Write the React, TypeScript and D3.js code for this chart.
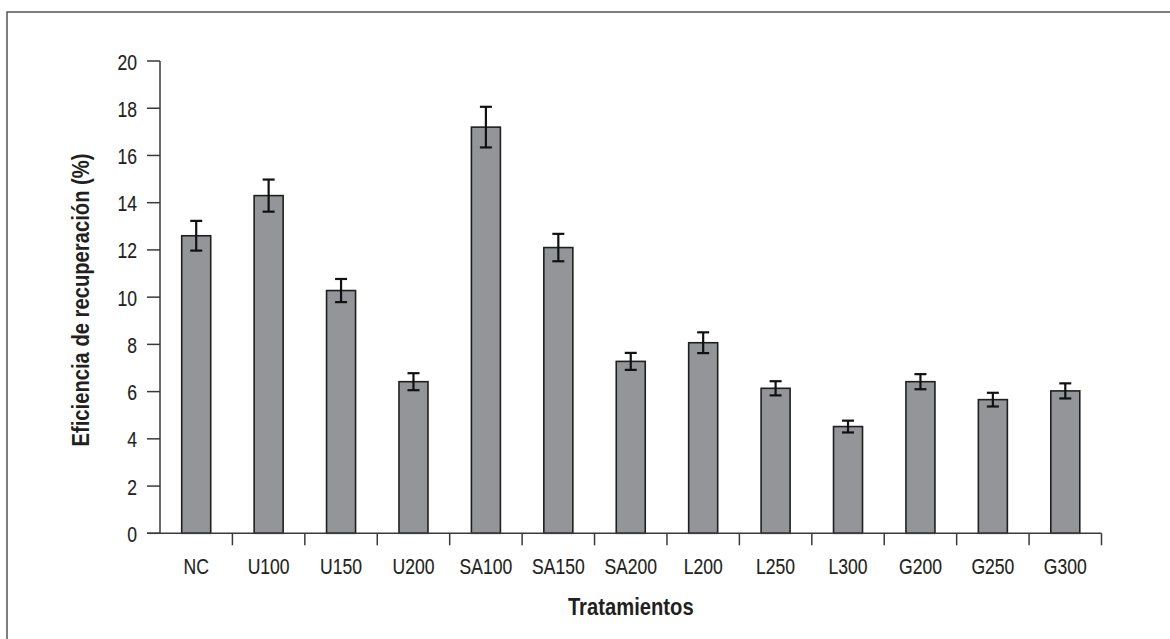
import React from "react";
import * as d3 from "d3";

const categories = ["NC", "U100", "U150", "U200", "SA100", "SA150", "SA200", "L200", "L250", "L300", "G200", "G250", "G300"];
const values = [12.6, 14.3, 10.28, 6.42, 17.2, 12.1, 7.28, 8.07, 6.14, 4.52, 6.42, 5.66, 6.03];
const errors = [0.63, 0.68, 0.49, 0.36, 0.86, 0.58, 0.36, 0.44, 0.3, 0.25, 0.32, 0.29, 0.32];
const yTicks = [0, 2, 4, 6, 8, 10, 12, 14, 16, 18, 20];
const xTitle = "Tratamientos";
const yTitle = "Eficiencia de recuperación (%)";

const W = 1170;
const H = 639;
const left = 160;
const right = 1101.5;
const top = 61;
const bottom = 533.3;
const FONT = "'Liberation Sans', Arial, sans-serif";
const TEXT = "#231f20";
const AXIS = "#3a3a3a";

function CText(props: {
  x: number;
  y: number;
  sx: number;
  rotate?: number;
  anchor: string;
  size: number;
  bold?: boolean;
  children: React.ReactNode;
}) {
  const rot = props.rotate ? ` rotate(${props.rotate})` : "";
  return (
    <text
      transform={`translate(${props.x},${props.y})${rot} scale(${props.sx},1)`}
      textAnchor={props.anchor}
      fontFamily={FONT}
      fontSize={props.size}
      fontWeight={props.bold ? "bold" : "normal"}
      fill={TEXT}
      stroke={props.bold ? "none" : TEXT}
      strokeWidth={props.bold ? 0 : 0.15}
    >
      {props.children}
    </text>
  );
}

export default function App() {
  const x = d3.scaleBand<string>().domain(categories).range([left, right]).paddingInner(0).paddingOuter(0);
  const y = d3.scaleLinear().domain([0, 20]).range([bottom, top]);
  const bw = 29;
  const cap = 6;
  const bandEdges = categories.map((c) => x(c)!).concat([right]);

  return (
    <svg width={W} height={H} style={{ position: "absolute", left: 0, top: 0, background: "#fff" }}>
      <rect x={7} y={12} width={W + 20} height={H + 20} fill="#fff" stroke="#555" strokeWidth={1.5} />
      {categories.map((c, i) => {
        const cx = x(c)! + x.bandwidth() / 2;
        return (
          <g key={c}>
            <rect x={cx - bw / 2} y={y(values[i])} width={bw} height={y(0) - y(values[i])} fill="#939598" stroke="#1f1f1f" strokeWidth={1.6} />
            <line x1={cx} x2={cx} y1={y(values[i] + errors[i])} y2={y(values[i] - errors[i])} stroke="#111" strokeWidth={2.2} />
            <line x1={cx - cap} x2={cx + cap} y1={y(values[i] + errors[i])} y2={y(values[i] + errors[i])} stroke="#111" strokeWidth={2.2} />
            <line x1={cx - cap} x2={cx + cap} y1={y(values[i] - errors[i])} y2={y(values[i] - errors[i])} stroke="#111" strokeWidth={2.2} />
          </g>
        );
      })}
      <line x1={left} x2={left} y1={y(20)} y2={y(0)} stroke={AXIS} strokeWidth={1.5} />
      {yTicks.map((t) => (
        <g key={t}>
          <line x1={left - 13} x2={left} y1={y(t)} y2={y(t)} stroke={AXIS} strokeWidth={1.5} />
          <CText x={left - 23} y={y(t) + 8.5} sx={0.78} anchor="end" size={22.5}>
            {t}
          </CText>
        </g>
      ))}
      <line x1={left - 13} x2={right} y1={y(0)} y2={y(0)} stroke={AXIS} strokeWidth={1.5} />
      {bandEdges.slice(1).map((e, i) => (
        <line key={i} x1={e} x2={e} y1={y(0)} y2={y(0) + 12} stroke={AXIS} strokeWidth={1.5} />
      ))}
      {categories.map((c) => (
        <CText key={c} x={x(c)! + x.bandwidth() / 2} y={574} sx={0.78} anchor="middle" size={22.5}>
          {c}
        </CText>
      ))}
      <CText x={(left + right) / 2} y={615} sx={0.86} anchor="middle" size={23.5} bold>
        {xTitle}
      </CText>
      <CText x={89} y={300} rotate={-90} sx={0.86} anchor="middle" size={23.5} bold>
        {yTitle}
      </CText>
    </svg>
  );
}
